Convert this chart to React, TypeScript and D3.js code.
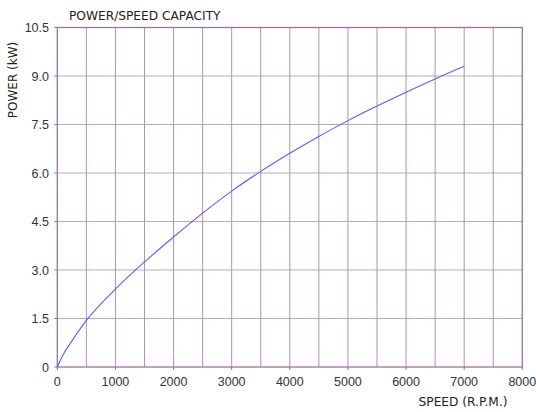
import { useEffect, useRef } from "react";
import * as d3 from "d3";

const speeds = [0, 100, 250, 500, 1000, 1500, 2000, 2500, 3000, 3500, 4000, 4500, 5000, 5500, 6000, 6500, 7000];
const powers = [0, 0.38, 0.8, 1.44, 2.41, 3.25, 4.02, 4.76, 5.44, 6.05, 6.61, 7.13, 7.62, 8.07, 8.5, 8.91, 9.3];

const xTicks = [0, 1000, 2000, 3000, 4000, 5000, 6000, 7000, 8000];
const xGrid = [500, 1000, 1500, 2000, 2500, 3000, 3500, 4000, 4500, 5000, 5500, 6000, 6500, 7000, 7500];
const yTicks = [0, 1.5, 3.0, 4.5, 6.0, 7.5, 9.0, 10.5];

const FONT = "'DejaVu Sans', sans-serif";
const TICK_FONT = "'Liberation Sans', Arial, sans-serif";

export default function App() {
  const ref = useRef<SVGSVGElement | null>(null);

  useEffect(() => {
    const el = ref.current;
    if (!el) return;
    const svg = d3.select(el);
    svg.selectAll("*").remove();

    const left = 57.3;
    const right = 522.3;
    const top = 27.5;
    const bottom = 367;

    const x = d3.scaleLinear().domain([0, 8000]).range([left, right]);
    const y = d3.scaleLinear().domain([0, 10.5]).range([bottom, top]);

    svg.append("rect").attr("width", 536).attr("height", 412).attr("fill", "#ffffff");

    // horizontal grid
    svg
      .append("g")
      .selectAll("line")
      .data(yTicks.slice(1, -1))
      .join("line")
      .attr("x1", left)
      .attr("x2", right)
      .attr("y1", (d) => y(d))
      .attr("y2", (d) => y(d))
      .attr("stroke", "#b9a9ba")
      .attr("stroke-width", 1);

    // vertical grid
    svg
      .append("g")
      .selectAll("line")
      .data(xGrid)
      .join("line")
      .attr("x1", (d) => x(d))
      .attr("x2", (d) => x(d))
      .attr("y1", top)
      .attr("y2", bottom)
      .attr("stroke", "#b48fb6")
      .attr("stroke-width", 1);

    // ticks
    svg
      .append("g")
      .selectAll("line")
      .data(yTicks)
      .join("line")
      .attr("x1", left - 3)
      .attr("x2", left)
      .attr("y1", (d) => y(d))
      .attr("y2", (d) => y(d))
      .attr("stroke", "#9b72a0");

    svg
      .append("g")
      .selectAll("line")
      .data(xTicks)
      .join("line")
      .attr("x1", (d) => x(d))
      .attr("x2", (d) => x(d))
      .attr("y1", bottom)
      .attr("y2", bottom + 3)
      .attr("stroke", "#9b72a0");

    // frame
    svg
      .append("rect")
      .attr("x", left)
      .attr("y", top)
      .attr("width", right - left)
      .attr("height", bottom - top)
      .attr("fill", "none")
      .attr("stroke", "#9b72a0")
      .attr("stroke-width", 1.3);

    // curve
    const line = d3
      .line<number>()
      .x((_d, i) => x(speeds[i]))
      .y((d) => y(d))
      .curve(d3.curveMonotoneX);

    svg
      .append("path")
      .datum(powers)
      .attr("d", line)
      .attr("fill", "none")
      .attr("stroke", "#5c5cff")
      .attr("stroke-width", 1.1);

    // tick labels
    svg
      .append("g")
      .selectAll("text")
      .data(xTicks)
      .join("text")
      .attr("x", (d) => x(d))
      .attr("y", 386)
      .attr("text-anchor", "middle")
      .attr("font-family", TICK_FONT)
      .attr("font-size", 12.5)
      .attr("fill", "#333")
      .text((d) => String(d));

    svg
      .append("g")
      .selectAll("text")
      .data(yTicks)
      .join("text")
      .attr("x", 49)
      .attr("y", (d) => y(d) + 4.5)
      .attr("text-anchor", "end")
      .attr("font-family", TICK_FONT)
      .attr("font-size", 12.5)
      .attr("fill", "#333")
      .text((d) => (d === 0 ? "0" : d.toFixed(1)));

    // titles
    svg
      .append("text")
      .attr("x", 69)
      .attr("y", 20)
      .attr("font-family", FONT)
      .attr("font-size", 12.2)
      .attr("fill", "#222")
      .text("POWER/SPEED CAPACITY");

    svg
      .append("text")
      .attr("x", 463)
      .attr("y", 406)
      .attr("text-anchor", "middle")
      .attr("font-family", FONT)
      .attr("font-size", 12.2)
      .attr("fill", "#222")
      .text("SPEED (R.P.M.)");

    svg
      .append("text")
      .attr("transform", "translate(17,80) rotate(-90)")
      .attr("text-anchor", "middle")
      .attr("font-family", FONT)
      .attr("font-size", 12)
      .attr("fill", "#222")
      .text("POWER (kW)");
  }, []);

  return (
    <svg
      ref={ref}
      width={536}
      height={412}
      style={{ position: "absolute", left: 0, top: 0, display: "block" }}
    />
  );
}
